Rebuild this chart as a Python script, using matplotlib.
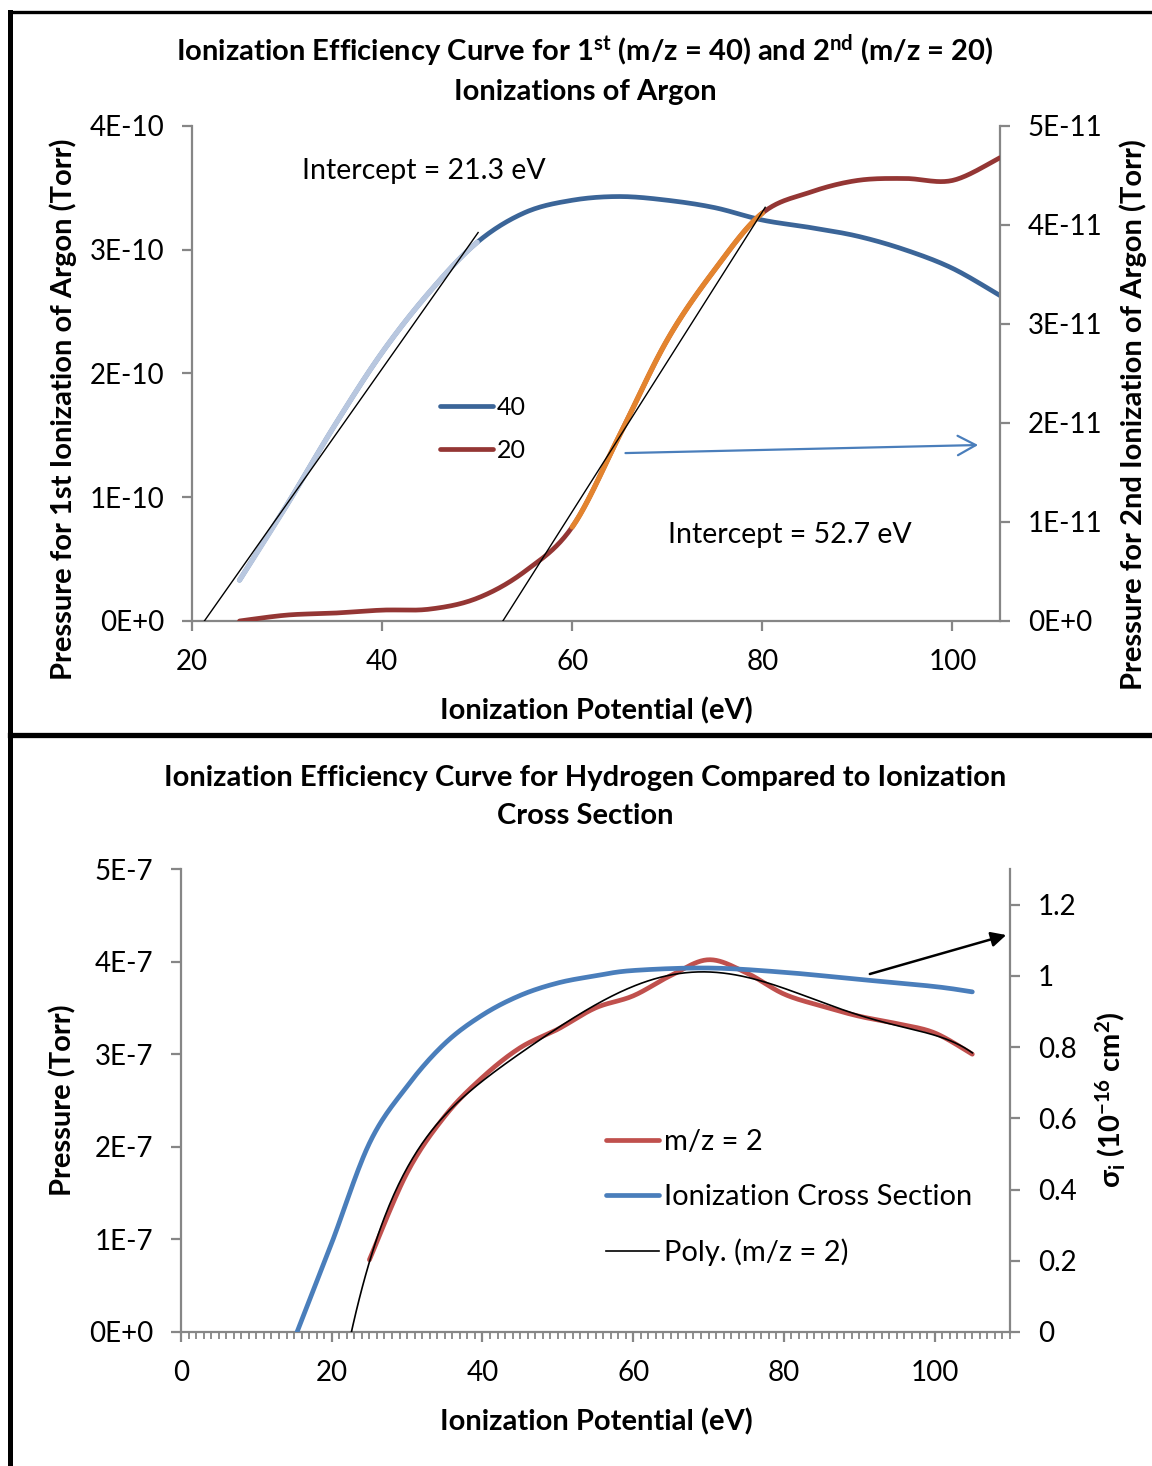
import numpy as np
import matplotlib
matplotlib.use("Agg")
import matplotlib.pyplot as plt
from matplotlib.lines import Line2D
from matplotlib.ticker import MultipleLocator, FixedLocator

plt.rcParams['font.family'] = ['Lato', 'DejaVu Sans']
plt.rcParams['mathtext.default'] = 'regular'

# ---------------- Argon data (top panel) ----------------
ar_energy = [25, 30, 35, 40, 45, 50, 55, 60, 65, 70, 75, 80, 85, 90, 95, 100, 105]
ar40_pressure = np.array([0.33, 0.94, 1.58, 2.17, 2.66, 3.06, 3.30, 3.40, 3.43,
                          3.40, 3.34, 3.24, 3.18, 3.11, 3.00, 2.85, 2.63]) * 1e-10
ar20_pressure = np.array([0.00, 0.06, 0.08, 0.11, 0.12, 0.23, 0.50, 0.95, 1.88,
                          2.84, 3.55, 4.12, 4.33, 4.45, 4.47, 4.45, 4.68]) * 1e-11
ar40_fit_range = (25, 50)
ar20_fit_range = (60, 80)
ar40_intercept, ar40_line_end, ar40_slope = 21.3, 50.1, 0.109e-10
ar20_intercept, ar20_line_end, ar20_slope = 52.7, 80.3, 0.1514e-11

ar_xticks = [20, 40, 60, 80, 100]
ar_left_ticks = [0, 1e-10, 2e-10, 3e-10, 4e-10]
ar_left_labels = ["0E+0", "1E-10", "2E-10", "3E-10", "4E-10"]
ar_right_ticks = [0, 1e-11, 2e-11, 3e-11, 4e-11, 5e-11]
ar_right_labels = ["0E+0", "1E-11", "2E-11", "3E-11", "4E-11", "5E-11"]

# ---------------- Hydrogen data (bottom panel) ----------------
h2_energy = [25, 30, 35, 40, 45, 50, 55, 60, 65, 70, 75, 80, 85, 90, 95, 100, 105]
h2_pressure = np.array([0.78, 1.72, 2.33, 2.75, 3.07, 3.27, 3.50, 3.63, 3.85,
                        4.02, 3.88, 3.65, 3.52, 3.41, 3.33, 3.23, 3.00]) * 1e-7
xs_energy = [15.4, 20, 25, 30, 35, 40, 45, 50, 55, 60, 70, 80, 90, 100, 105]
xs_sigma = [0.0, 0.25, 0.53, 0.69, 0.81, 0.89, 0.945, 0.98, 1.00, 1.015,
            1.022, 1.01, 0.99, 0.97, 0.955]

h2_xticks = [0, 20, 40, 60, 80, 100]
h2_left_ticks = [0, 1e-7, 2e-7, 3e-7, 4e-7, 5e-7]
h2_left_labels = ["0E+0", "1E-7", "2E-7", "3E-7", "4E-7", "5E-7"]
h2_right_ticks = [0, 0.2, 0.4, 0.6, 0.8, 1.0, 1.2]
h2_right_labels = ["0", "0.2", "0.4", "0.6", "0.8", "1", "1.2"]

# ---------------- styling ----------------
GRAY = '#868686'
BLUE_DK = '#3b6598'
RED_DK = '#943634'
PALE_BLUE = '#b8c7df'
ORANGE = '#e3842f'
RED = '#c0504d'
BLUE = '#4a7ebb'
TICK_FS = 20
LABEL_FS = 21
TITLE_FS = 21
LW = 3.4

W, H = 1152, 1466


def smooth(x, y, n=24):
    """Excel-style smoothed line: cubic Bezier segments through each point."""
    pts = np.column_stack([np.asarray(x, float), np.asarray(y, float)])
    out = []
    for i in range(len(pts) - 1):
        p0 = pts[i - 1] if i > 0 else pts[i]
        p1, p2 = pts[i], pts[i + 1]
        p3 = pts[i + 2] if i + 2 < len(pts) else pts[i + 1]
        c1 = p1 + (p2 - p0) / 6.0
        c2 = p2 - (p3 - p1) / 6.0
        t = np.linspace(0, 1, n, endpoint=False)[:, None]
        out.append((1 - t) ** 3 * p1 + 3 * (1 - t) ** 2 * t * c1
                   + 3 * (1 - t) * t ** 2 * c2 + t ** 3 * p2)
    out.append(pts[-1:])
    s = np.vstack(out)
    return s[:, 0], s[:, 1]


def px_axes(left, top, right, bottom):
    return [left / W, 1 - bottom / H, (right - left) / W, (bottom - top) / H]


def style_axes(ax, twin):
    ax.spines['top'].set_visible(False)
    twin.spines['top'].set_visible(False)
    for a in (ax, twin):
        for s in a.spines.values():
            s.set_color(GRAY)
            s.set_linewidth(1.6)
        a.tick_params(which='both', color=GRAY, width=1.6, direction='out',
                      labelsize=TICK_FS, pad=13)
        a.tick_params(which='major', length=7)
    twin.spines['left'].set_visible(False)
    twin.spines['bottom'].set_visible(False)
    ax.spines['right'].set_visible(False)


def title_line(text, y_baseline):
    fig.text(585 / W, 1 - y_baseline / H, text, ha='center', va='baseline',
             fontsize=TITLE_FS, fontweight='bold')


fig = plt.figure(figsize=(W / 100, H / 100), dpi=100)

# ================= Top panel: Argon =================
ax1 = fig.add_axes(px_axes(192, 126, 1000, 621))
ax1r = ax1.twinx()
style_axes(ax1, ax1r)

ax1.set_xlim(20, 105)
ax1.set_ylim(0, 4e-10)
ax1r.set_ylim(0, 5e-11)
ax1.xaxis.set_major_locator(FixedLocator(ar_xticks))
ax1.set_xticklabels([str(v) for v in ar_xticks])
ax1.yaxis.set_major_locator(FixedLocator(ar_left_ticks))
ax1.set_yticklabels(ar_left_labels)
ax1r.yaxis.set_major_locator(FixedLocator(ar_right_ticks))
ax1r.set_yticklabels(ar_right_labels)

bx, by = smooth(ar_energy, ar40_pressure)
rx, ry = smooth(ar_energy, ar20_pressure)
ax1.plot(bx, by, color=BLUE_DK, lw=LW, solid_capstyle='round', zorder=3)
m = (bx >= ar40_fit_range[0]) & (bx <= ar40_fit_range[1])
ax1.plot(bx[m], by[m], color=PALE_BLUE, lw=LW + 0.4, solid_capstyle='round', zorder=4)
ax1r.plot(rx, ry, color=RED_DK, lw=LW, solid_capstyle='round', zorder=3)
m = (rx >= ar20_fit_range[0]) & (rx <= ar20_fit_range[1])
ax1r.plot(rx[m], ry[m], color=ORANGE, lw=LW + 0.4, solid_capstyle='round', zorder=4)

# linear extrapolations to the onset
lx = np.array([ar40_intercept, ar40_line_end])
ax1.plot(lx, ar40_slope * (lx - ar40_intercept), color='black', lw=1.0, zorder=5)
lx = np.array([ar20_intercept, ar20_line_end])
ax1r.plot(lx, ar20_slope * (lx - ar20_intercept), color='black', lw=1.0, zorder=5)

ax1.text(31.6, 3.64e-10, f"Intercept = {ar40_intercept} eV", fontsize=20.5,
         ha='left', va='center')
ax1.text(70.1, 0.695e-10, f"Intercept = {ar20_intercept} eV", fontsize=20.5,
         ha='left', va='center')

ax1.annotate("", xy=(102.7, 1.422e-10), xytext=(65.6, 1.357e-10),
             arrowprops=dict(arrowstyle='->,head_length=1.3,head_width=0.7',
                             color=BLUE, lw=1.6, shrinkA=0, shrinkB=0), zorder=6)

leg_handles = [Line2D([], [], color=BLUE_DK, lw=LW, solid_capstyle='round'),
               Line2D([], [], color=RED_DK, lw=LW, solid_capstyle='round')]
ax1.legend(leg_handles, ["40", "20"], loc='upper left',
           bbox_to_anchor=((440 - 192) / 808, (621 - 396) / 495),
           frameon=False, fontsize=18, handlelength=2.1, handletextpad=0.16,
           labelspacing=0.8, borderaxespad=0, borderpad=0)

ax1.set_xlabel("Ionization Potential (eV)", fontsize=LABEL_FS, fontweight='bold')
ax1.xaxis.set_label_coords((596 - 192) / 808, (621 - 711) / 495)
ax1.xaxis.label.set_va('center')
ax1.set_ylabel("Pressure for 1st Ionization of Argon (Torr)", fontsize=LABEL_FS,
               fontweight='bold')
ax1.yaxis.set_label_coords((63 - 192) / 808, (621 - 409) / 495)
ax1.yaxis.label.set_va('center')
ax1r.set_ylabel("Pressure for 2nd Ionization of Argon (Torr)", fontsize=LABEL_FS,
                fontweight='bold')
ax1r.yaxis.set_label_coords((1133 - 192) / 808, (621 - 415) / 495)
ax1r.yaxis.label.set_va('center')
ax1r.yaxis.label.set_rotation(90)

title_line("Ionization Efficiency Curve for 1$^{st}$ (m/z = 40) and "
           "2$^{nd}$ (m/z = 20)", 61)
title_line("Ionizations of Argon", 100)

# ================= Bottom panel: Hydrogen =================
ax2 = fig.add_axes(px_axes(181, 869, 1010, 1332))
ax2r = ax2.twinx()
style_axes(ax2, ax2r)

ax2.set_xlim(0, 110)
ax2.set_ylim(0, 5e-7)
ax2r.set_ylim(0, 1.3)
ax2.xaxis.set_major_locator(FixedLocator(h2_xticks))
ax2.set_xticklabels([str(v) for v in h2_xticks])
ax2.xaxis.set_minor_locator(MultipleLocator(1))
ax2.tick_params(axis='x', which='minor', length=5, width=1.3)
ax2.yaxis.set_major_locator(FixedLocator(h2_left_ticks))
ax2.set_yticklabels(h2_left_labels)
ax2r.yaxis.set_major_locator(FixedLocator(h2_right_ticks))
ax2r.set_yticklabels(h2_right_labels)

hx, hy = smooth(h2_energy, h2_pressure)
ax2.plot(hx, hy, color=RED, lw=LW, solid_capstyle='round', zorder=3)
sx, sy = smooth(xs_energy, xs_sigma)
ax2r.plot(sx, sy, color=BLUE, lw=LW, solid_capstyle='round', zorder=3)

# sixth-order polynomial trendline of the m/z = 2 curve, extended backward
poly = np.polynomial.Polynomial.fit(h2_energy, h2_pressure / 1e-7, 6)
px = np.linspace(22.0, 105, 400)
ax2.plot(px, poly(px) * 1e-7, color='black', lw=1.2, zorder=5)

ax2.annotate("", xy=(109.5, 4.287e-7), xytext=(91.4, 3.866e-7),
             arrowprops=dict(arrowstyle='-|>,head_length=0.9,head_width=0.45',
                             color='black', lw=1.8, shrinkA=0, shrinkB=0), zorder=6)

h2_handles = [Line2D([], [], color=RED, lw=LW, solid_capstyle='round'),
              Line2D([], [], color=BLUE, lw=LW, solid_capstyle='round'),
              Line2D([], [], color='black', lw=1.2)]
ax2.legend(h2_handles, ["m/z = 2", "Ionization Cross Section", "Poly. (m/z = 2)"],
           loc='upper left',
           bbox_to_anchor=((606 - 181) / 829, (1332 - 1129) / 463),
           frameon=False, fontsize=LABEL_FS, handlelength=1.82, handletextpad=0.17,
           labelspacing=0.99, borderaxespad=0, borderpad=0)

ax2.set_xlabel("Ionization Potential (eV)", fontsize=LABEL_FS, fontweight='bold')
ax2.xaxis.set_label_coords((596 - 181) / 829, (1332 - 1422) / 463)
ax2.xaxis.label.set_va('center')
ax2.set_ylabel("Pressure (Torr)", fontsize=LABEL_FS, fontweight='bold')
ax2.yaxis.set_label_coords((63 - 181) / 829, (1332 - 1100) / 463)
ax2.yaxis.label.set_va('center')
ax2r.set_ylabel("σ$_{i}$ (10$^{-16}$ cm$^{2}$)", fontsize=LABEL_FS,
                fontweight='bold')
ax2r.yaxis.set_label_coords((1110 - 181) / 829, (1332 - 1100) / 463)
ax2r.yaxis.label.set_va('center')
ax2r.yaxis.label.set_rotation(90)

title_line("Ionization Efficiency Curve for Hydrogen Compared to Ionization", 786)
title_line("Cross Section", 824)

# ================= panel frames =================
def fig_line(xs, ys, lw):
    fig.add_artist(Line2D(np.array(xs) / W, 1 - np.array(ys) / H,
                          transform=fig.transFigure, color='black', lw=lw,
                          solid_capstyle='projecting'))

fig_line([9.5, 9.5], [11.5, 1470], 3.6)
fig_line([9.5, 1160], [11.5, 11.5], 2.4)
fig_line([9.5, 1160], [734.5, 734.5], 3.8)

fig.savefig("out.png", dpi=100)
